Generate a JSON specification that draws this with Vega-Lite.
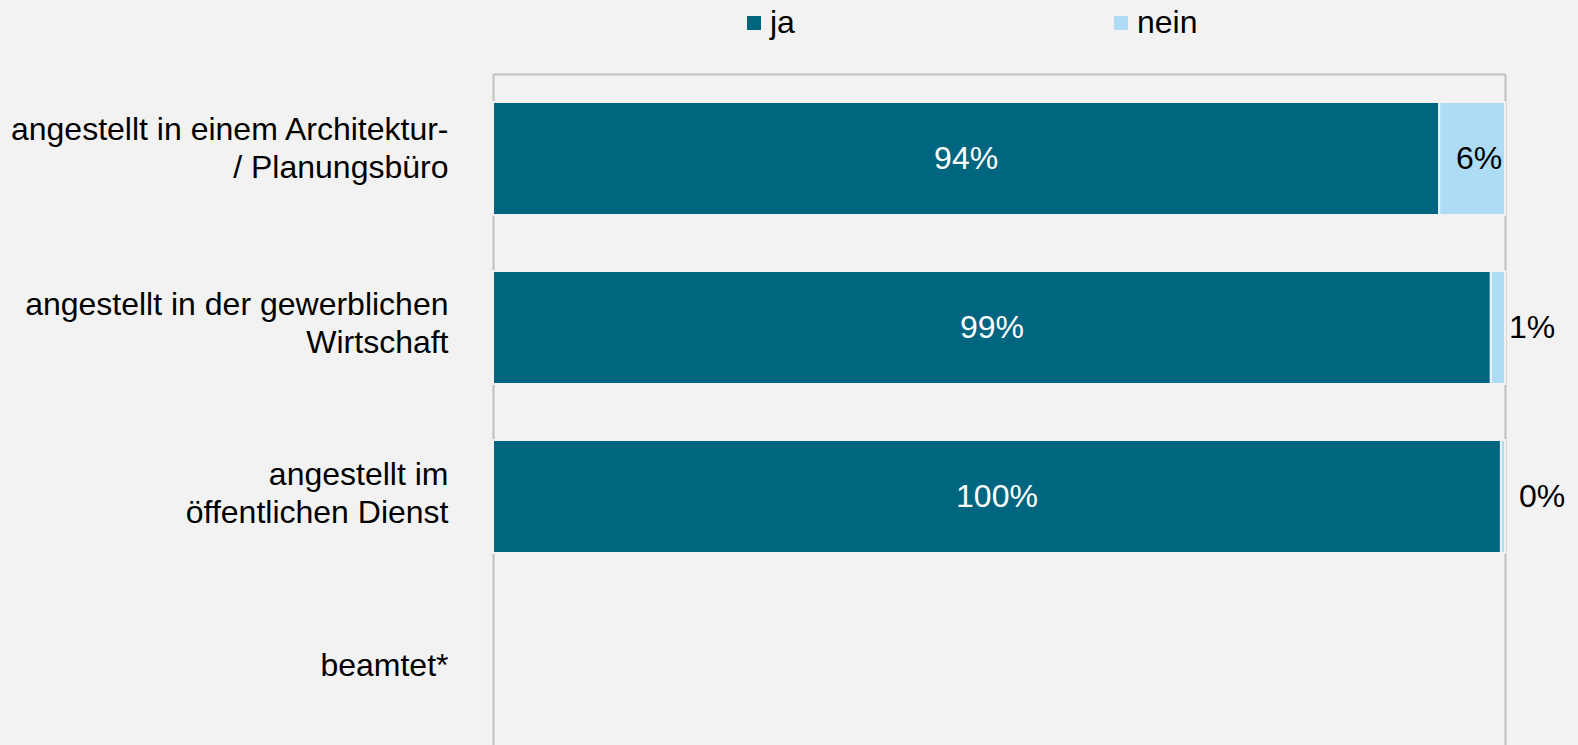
{
  "$schema": "https://vega.github.io/schema/vega-lite/v6.json",
  "width": 1012,
  "height": 671,
  "autosize": {"type": "none"},
  "padding": {"left": 493, "top": 74, "right": 73, "bottom": 0},
  "background": "#f2f2f2",
  "config": {"view": {"stroke": null}, "font": "Liberation Sans"},
  "data": {
    "values": [
      {"category": "angestellt in einem Architektur-|/ Planungsbüro", "answer": "ja", "value": 0.935, "label": "94%"},
      {"category": "angestellt in einem Architektur-|/ Planungsbüro", "answer": "nein", "value": 0.065, "label": "6%"},
      {"category": "angestellt in der gewerblichen|Wirtschaft", "answer": "ja", "value": 0.986, "label": "99%"},
      {"category": "angestellt in der gewerblichen|Wirtschaft", "answer": "nein", "value": 0.014, "label": "1%"},
      {"category": "angestellt im|öffentlichen Dienst", "answer": "ja", "value": 0.996, "label": "100%"},
      {"category": "angestellt im|öffentlichen Dienst", "answer": "nein", "value": 0.004, "label": "0%"}
    ]
  },
  "transform": [
    {"stack": "value", "groupby": ["category"], "sort": [{"field": "answer", "order": "ascending"}], "as": ["v0", "v1"]}
  ],
  "encoding": {
    "y": {
      "field": "category",
      "type": "nominal",
      "scale": {
        "domain": ["angestellt in einem Architektur-|/ Planungsbüro", "angestellt in der gewerblichen|Wirtschaft", "angestellt im|öffentlichen Dienst", "beamtet*"],
        "range": [0, 676],
        "paddingInner": 0.331,
        "paddingOuter": 0.1655
      },
      "axis": {
        "title": null,
        "domain": false,
        "ticks": false,
        "tickSize": 0,
        "labelFontSize": 32,
        "labelColor": "#000000",
        "labelPadding": 45,
        "labelLimit": 600,
        "labelExpr": "split(datum.label, '|')",
        "labelLineHeight": 38,
        "labelOffset": {
          "condition": [
            {"test": "indexof(datum.value, 'Architektur') >= 0", "value": -29},
            {"test": "indexof(datum.value, 'gewerblichen') >= 0", "value": -23},
            {"test": "indexof(datum.value, 'Dienst') >= 0", "value": -22}
          ],
          "value": 0
        }
      }
    }
  },
  "layer": [
    {
      "mark": {"type": "bar", "stroke": "#f2f2f2", "strokeWidth": 2},
      "encoding": {
        "x": {
          "field": "v0",
          "type": "quantitative",
          "scale": {"domain": [0, 1], "nice": false, "zero": true},
          "axis": {
            "orient": "top",
            "title": null,
            "values": [0, 1],
            "grid": true,
            "gridColor": "#bfbfbf",
            "gridWidth": 2,
            "domain": true,
            "domainColor": "#bfbfbf",
            "domainWidth": 2,
            "ticks": false,
            "labels": false
          }
        },
        "x2": {"field": "v1"},
        "color": {
          "field": "answer",
          "type": "nominal",
          "scale": {"domain": ["ja", "nein"], "range": ["#00667f", "#afdcf5"]},
          "legend": {
            "orient": "none",
            "legendX": 245,
            "legendY": -67,
            "direction": "horizontal",
            "title": null,
            "symbolType": "square",
            "symbolSize": 196,
            "symbolStrokeWidth": 0,
            "labelFontSize": 32,
            "labelOffset": 0,
            "columnPadding": 310,
            "labelColor": "#000000",
            "padding": 0
          }
        }
      }
    },
    {
      "transform": [
        {"filter": {"field": "answer", "equal": "ja"}},
        {"fold": ["v0", "v1"], "as": ["edge", "pos"]}
      ],
      "mark": {"type": "text", "color": "#ffffff", "fontSize": 32, "baseline": "middle", "align": "center"},
      "encoding": {
        "x": {"aggregate": "mean", "field": "pos", "type": "quantitative"},
        "text": {"field": "label", "type": "nominal"}
      }
    },
    {
      "transform": [
        {"filter": {"and": [{"field": "answer", "equal": "nein"}, {"field": "category", "equal": "angestellt in einem Architektur-|/ Planungsbüro"}]}},
        {"fold": ["v0", "v1"], "as": ["edge", "pos"]}
      ],
      "mark": {"type": "text", "color": "#000000", "fontSize": 32, "baseline": "middle", "align": "center", "dx": 7},
      "encoding": {
        "x": {"aggregate": "mean", "field": "pos", "type": "quantitative"},
        "text": {"field": "label", "type": "nominal"}
      }
    },
    {
      "transform": [{"filter": {"and": [{"field": "answer", "equal": "nein"}, {"field": "category", "equal": "angestellt in der gewerblichen|Wirtschaft"}]}}],
      "mark": {"type": "text", "color": "#000000", "fontSize": 32, "baseline": "middle", "align": "left", "dx": 4},
      "encoding": {
        "x": {"field": "v1", "type": "quantitative"},
        "text": {"field": "label"}
      }
    },
    {
      "transform": [{"filter": {"and": [{"field": "answer", "equal": "nein"}, {"field": "category", "equal": "angestellt im|öffentlichen Dienst"}]}}],
      "mark": {"type": "text", "color": "#000000", "fontSize": 32, "baseline": "middle", "align": "left", "dx": 14},
      "encoding": {
        "x": {"field": "v1", "type": "quantitative"},
        "text": {"field": "label"}
      }
    }
  ]
}
